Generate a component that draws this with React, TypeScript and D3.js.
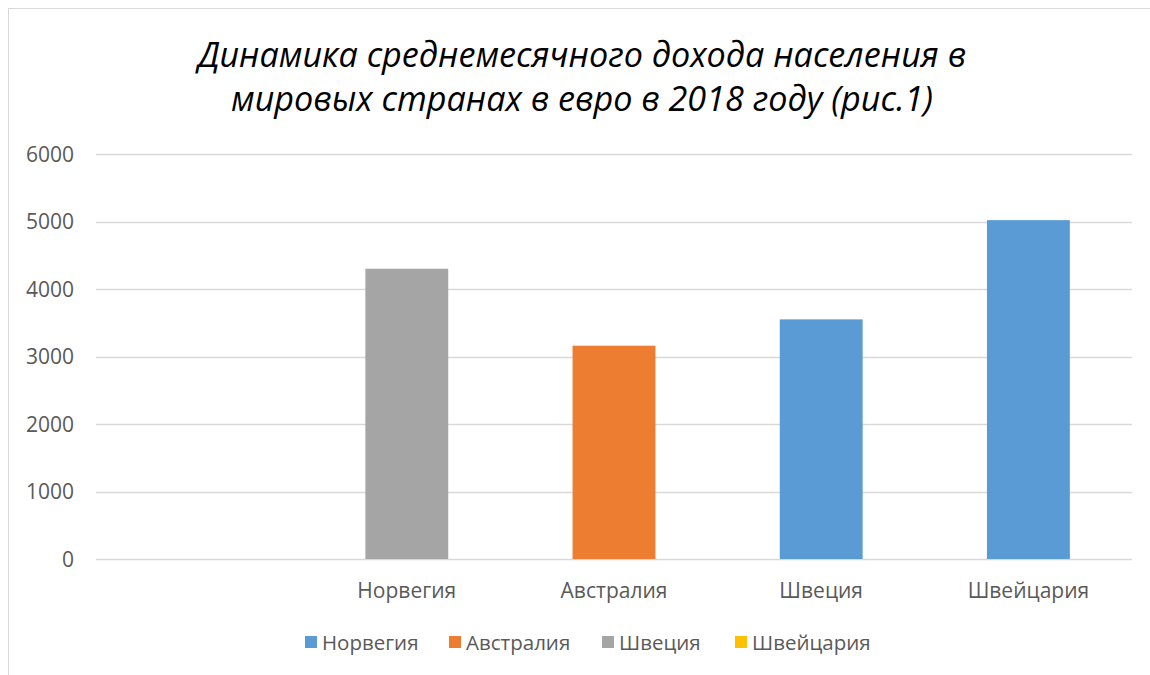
import React from "react";
import * as d3 from "d3";

const categories = ["", "Норвегия", "Австралия", "Швеция", "Швейцария"];
const values: (number | null)[] = [null, 4300, 3160, 3550, 5020];
const barColors = ["none", "#A5A5A5", "#ED7D31", "#5B9BD5", "#5B9BD5"];
const yTicks = [0, 1000, 2000, 3000, 4000, 5000, 6000];
const legendNames = ["Норвегия", "Австралия", "Швеция", "Швейцария"];
const legendColors = ["#5B9BD5", "#ED7D31", "#A5A5A5", "#FFC000"];
const legendX = [305, 449, 602, 735];
const titleLines = [
  "Динамика среднемесячного дохода населения в",
  "мировых странах в евро в 2018 году (рис.1)",
];

export default function App() {
  const W = 1150, H = 675;
  const x = d3.scaleBand<string>().domain(categories).range([96, 1132]).paddingInner(0.6).paddingOuter(0.3);
  const y = d3.scaleLinear().domain([0, 6000]).range([559, 154]);
  const font = "'Open Sans', 'Noto Sans', sans-serif";
  return (
    <svg width={W} height={H} style={{ position: "absolute", left: 0, top: 0, background: "#fff" }}>
      <rect x={8.5} y={8.5} width={1200} height={720} fill="#fff" stroke="#d9d9d9" strokeWidth={1} />
      {titleLines.map((t, i) => (
        <text key={i} x={582} y={[67, 111][i]} textAnchor="middle" fontFamily={font} fontStyle="italic" fontWeight={400}
          fontSize={34} fill="#000" textLength={[768, 702][i]} lengthAdjust="spacingAndGlyphs">{t}</text>
      ))}
      {yTicks.map((t) => (
        <g key={t}>
          <line x1={96} x2={1132} y1={Math.round(y(t)) + 0.5} y2={Math.round(y(t)) + 0.5} stroke="#d9d9d9" strokeWidth={1.3} />
          <text x={74} y={y(t) + 7.5} textAnchor="end" fontFamily={font} fontSize={21} fill="#595959">{t}</text>
        </g>
      ))}
      {categories.map((c, i) => {
        const v = values[i];
        const cx = (x(c) ?? 0) + x.bandwidth() / 2;
        return (
          <g key={i}>
            {v != null && (
              <rect x={x(c)} y={y(v)} width={x.bandwidth()} height={y(0) - y(v)} fill={barColors[i]} />
            )}
            {c && (
              <text x={cx} y={598} textAnchor="middle" fontFamily={font} fontSize={21} fill="#595959">{c}</text>
            )}
          </g>
        );
      })}
      {legendNames.map((n, i) => (
        <g key={n}>
          <rect x={legendX[i]} y={636} width={12} height={12} fill={legendColors[i]} />
          <text x={legendX[i] + 17} y={650} fontFamily={font} fontSize={20.5} fill="#595959">{n}</text>
        </g>
      ))}
    </svg>
  );
}
